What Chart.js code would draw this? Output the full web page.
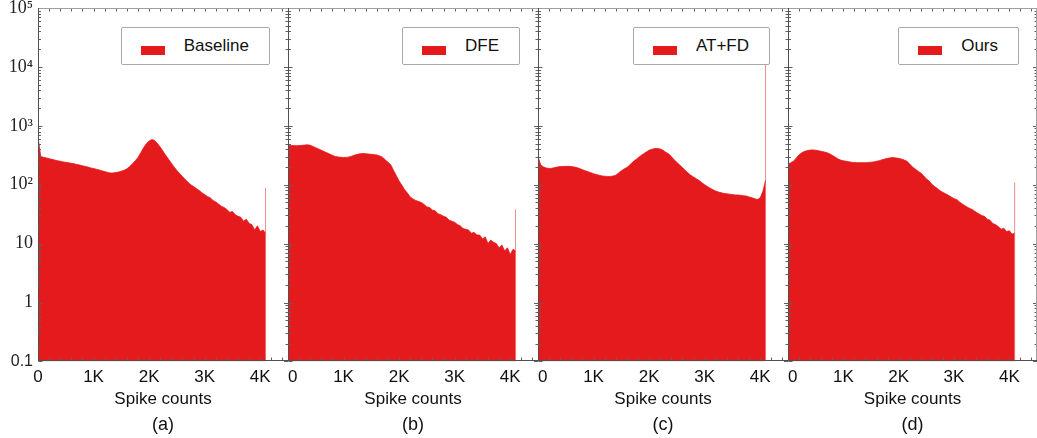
<!DOCTYPE html>
<html>
<head>
<meta charset="utf-8">
<script src="https://cdn.jsdelivr.net/npm/chart.js@4.4.1/dist/chart.umd.min.js"></script>
<style>
  html, body { margin: 0; padding: 0; background: #fff; }
  body { width: 1037px; height: 438px; position: relative; overflow: hidden; font-family: "Liberation Sans", Arial, sans-serif; }
  .panel { position: absolute; top: 0; }
  .legend { position: absolute; top: 27px; height: 38px; box-sizing: border-box; border: 1px solid #a8a8a8; border-radius: 2px; background: #fff; display: flex; align-items: center; padding-right: 20px; font-size: 17px; color: #111; }
  .legend i { display: inline-block; width: 24px; height: 9px; background: #e41a1c; margin: 0 19px; position: relative; top: 4px; }
</style>
</head>
<body>
<script>
// bin positions (spike counts)
const BIN_X = [0,50,100,150,200,250,300,350,400,450,500,550,600,650,700,750,800,850,900,950,1000,1050,1100,1150,1200,1250,1300,1350,1400,1450,1500,1550,1600,1650,1700,1750,1800,1850,1900,1950,2000,2050,2100,2150,2200,2250,2300,2350,2400,2450,2500,2550,2600,2650,2700,2750,2800,2850,2900,2950,3000,3050,3100,3150,3200,3250,3300,3350,3400,3450,3500,3550,3600,3650,3700,3750,3800,3850,3900,3950,4000,4050,4096];

const BASELINE = [640,300,292,285,276,270,262,256,250,244,
  240,236,231,226,221,216,210,204,199,193,
  188,183,178,172,167,162,158,158,161,164,
  169,176,186,203,226,255,290,350,425,495,
  550,585,565,500,435,370,315,270,232,200,
  175,155,138,122,110,100,93,86,80,73,
  68,63,60,54,51,47,43,41,38,34,
  35,31,29,28,24,26,22,21,17,20,
  16,17,15];

const DFE = [470,465,462,460,463,466,470,476,468,445,
  425,405,385,366,348,331,315,302,296,292,
  290,291,296,305,318,328,335,338,336,332,
  328,324,320,308,293,265,240,218,175,142,
  115,98,82,72,62,57,54,52,50,46,
  42,41,37,36,32,31,29,28,25,24,
  23,21,20,18,17.5,17,15,15.5,14,14,
  12,13,10,11.5,10.5,10,8.5,9.5,7.5,8.5,
  6.5,8,7.5];

const ATFD = [300,215,200,192,188,190,195,200,203,204,
  205,205,203,200,195,188,180,173,166,160,
  154,149,145,141,139,138,138,140,145,158,
  172,185,196,215,240,262,285,310,335,360,
  385,400,410,412,405,385,355,335,300,265,
  240,215,195,175,158,145,135,126,118,108,
  100,93,87,82,78,75,73,71,70,69,
  68,67,67,66,65,64,62,60,58,56,
  60,78,118];

const OURS = [220,237,250,285,322,350,368,380,387,390,
  385,378,368,360,351,335,315,295,275,262,
  255,250,245,241,238,237,237,237,237,239,
  241,244,250,256,265,273,280,286,289,285,
  280,272,262,250,225,200,185,170,158,142,
  126,115,102,93,86,79,74,70,66,62,
  58,56,51,47,44,41,39,37,34,32,
  30,29,26,25,22,21,19.5,17.5,18.3,16,
  16.5,14.5,15];

const SERIES_NAMES = ['Baseline', 'DFE', 'AT+FD', 'Ours'];
const SERIES_VALUES = [BASELINE, DFE, ATFD, OURS];
const PANEL_TAGS = ['(a)', '(b)', '(c)', '(d)'];

// lone overflow bin at the end of each histogram
const SPIKE_X = 4096;
const SPIKE_VALUES = [88, 38, 20000, 109];

const X_TICK_VALUES = [0, 1000, 2000, 3000, 4000];
const X_TICK_LABELS = ['0', '1K', '2K', '3K', '4K'];
const Y_TICK_VALUES = [0.1, 1, 10, 100, 1000, 10000, 100000];
const Y_TICK_LABELS = ['0.1', '1', '10', '10²', '10³', '10⁴', '10⁵'];

const RED = '#e41a1c';

// layout
const PANEL_LEFT = [38, 288, 538, 788];
const PANEL_W = [250, 250, 250, 249];
const AXIS_W = [38, 20, 20, 20];
const X_AXIS_H = 48;

Chart.defaults.font.family = "'Liberation Sans', Arial, sans-serif";
Chart.defaults.color = '#111';

const findIdx = (arr, v) => arr.findIndex(a => Math.abs(a - v) < 1e-9);

const frame = {
    id: 'frame',
    afterDatasetsDraw(chart, args, opts) {
        const { ctx, chartArea: a, scales: { x, y } } = chart;
        const L = Math.round(a.left) + 0.5;
        const R = Math.round(a.right);
        const T = Math.round(a.top) + 0.5;
        const B = Math.round(a.bottom) - 0.5;
        ctx.save();
        ctx.lineWidth = 1;
        ctx.strokeStyle = '#606060';
        ctx.beginPath();
        y.ticks.forEach(t => {
            const e = Math.floor(Math.log10(t.value) + 1e-9);
            const m = t.value / Math.pow(10, e);
            if (Math.abs(m - Math.round(m)) > 1e-6) return;
            const py = Math.round(y.getPixelForValue(t.value)) + 0.5;
            const len = Math.round(m) === 1 ? 4 : 2.5;
            ctx.moveTo(L, py); ctx.lineTo(L + len, py);
            ctx.moveTo(R, py); ctx.lineTo(R - len, py);
        });
        x.ticks.forEach(t => {
            const px = Math.round(x.getPixelForValue(t.value)) + 0.5;
            const len = 3;
            ctx.moveTo(px, B); ctx.lineTo(px, B - len);
            ctx.moveTo(px, T); ctx.lineTo(px, T + len);
        });
        ctx.stroke();

        ctx.strokeStyle = '#a0a0a0';
        ctx.beginPath();
        ctx.moveTo(L, T); ctx.lineTo(R, T);
        if (opts.last) { ctx.moveTo(R - 0.5, T); ctx.lineTo(R - 0.5, B); }
        ctx.stroke();

        ctx.strokeStyle = '#505050';
        ctx.beginPath();
        ctx.moveTo(L, T - 0.5); ctx.lineTo(L, B + 0.5);
        ctx.moveTo(L, B); ctx.lineTo(R, B);
        ctx.stroke();
        ctx.restore();
    }
};

PANEL_LEFT.forEach((left, i) => {
    const wrap = document.createElement('div');
    wrap.className = 'panel';
    wrap.style.left = (left - AXIS_W[i]) + 'px';
    const canvas = document.createElement('canvas');
    canvas.width = AXIS_W[i] + PANEL_W[i] + 2;
    canvas.height = 438;
    wrap.appendChild(canvas);
    document.body.appendChild(wrap);

    const legend = document.createElement('div');
    legend.className = 'legend';
    legend.style.right = (1037 - (left + PANEL_W[i]) + 18) + 'px';
    legend.innerHTML = `<i></i><span>${SERIES_NAMES[i]}</span>`;
    document.body.appendChild(legend);

    const vals = SERIES_VALUES[i];

    new Chart(canvas.getContext('2d'), {
        type: 'line',
        data: {
            datasets: [{
                label: SERIES_NAMES[i],
                data: BIN_X.map((bx, k) => ({ x: bx, y: vals[k] })),
                borderColor: RED,
                backgroundColor: RED,
                borderWidth: 0.8,
                pointRadius: 0,
                tension: 0,
                fill: 'start',
            }, {
                label: 'overflow',
                data: [{ x: SPIKE_X, y: 0.1 }, { x: SPIKE_X, y: SPIKE_VALUES[i] }],
                borderColor: 'rgba(228,26,28,0.5)',
                borderWidth: 1,
                pointRadius: 0,
                fill: false,
            }],
        },
        options: {
            responsive: false,
            animation: false,
            events: [],
            layout: { padding: { top: 8, right: 2, bottom: 2, left: 0 } },
            scales: {
                x: {
                    type: 'linear',
                    min: 0,
                    max: 4500,
                    grid: { display: false, drawTicks: false },
                    border: { display: false },
                    ticks: {
                        stepSize: 200,
                        autoSkip: false,
                        maxRotation: 0,
                        includeBounds: false,
                        padding: 8,
                        align: i === 0 ? 'center' : 'inner',
                        font: { size: 17, lineHeight: 0.9 },
                        color: '#111',
                        callback: v => {
                            const k = findIdx(X_TICK_VALUES, v);
                            return k >= 0 ? X_TICK_LABELS[k] : '';
                        },
                    },
                    title: {
                        display: true,
                        text: 'Spike counts',
                        font: { size: 17 },
                        color: '#111',
                        padding: { top: 1, bottom: 0 },
                    },
                    afterFit: s => { s.height = X_AXIS_H; s.paddingLeft = 0; s.paddingRight = 0; },
                },
                y: {
                    type: 'logarithmic',
                    min: 0.1,
                    max: 100000,
                    grid: { display: false, drawTicks: false },
                    border: { display: false },
                    ticks: {
                        display: i === 0,
                        autoSkip: false,
                        padding: 5,
                        color: '#222',
                        font: ctx => (ctx.tick && ctx.tick.value < 0.5)
                            ? { family: "'Liberation Sans', Arial, sans-serif", size: 16 }
                            : { family: "'Liberation Serif', 'DejaVu Serif', serif", size: 18 },
                        callback: v => {
                            const k = findIdx(Y_TICK_VALUES, v);
                            return k >= 0 ? Y_TICK_LABELS[k] : '';
                        },
                    },
                    afterFit: s => { s.width = AXIS_W[i]; s.paddingTop = 0; s.paddingBottom = 0; },
                },
            },
            plugins: {
                legend: { display: false },
                tooltip: { enabled: false },
                title: {
                    display: true,
                    position: 'bottom',
                    fullSize: false,
                    text: PANEL_TAGS[i],
                    font: { size: 18, weight: 'normal' },
                    color: '#111',
                    padding: { top: 5, bottom: 0 },
                },
                frame: { last: i === PANEL_LEFT.length - 1 },
            },
        },
        plugins: [frame],
    });
});
</script>
</body>
</html>
